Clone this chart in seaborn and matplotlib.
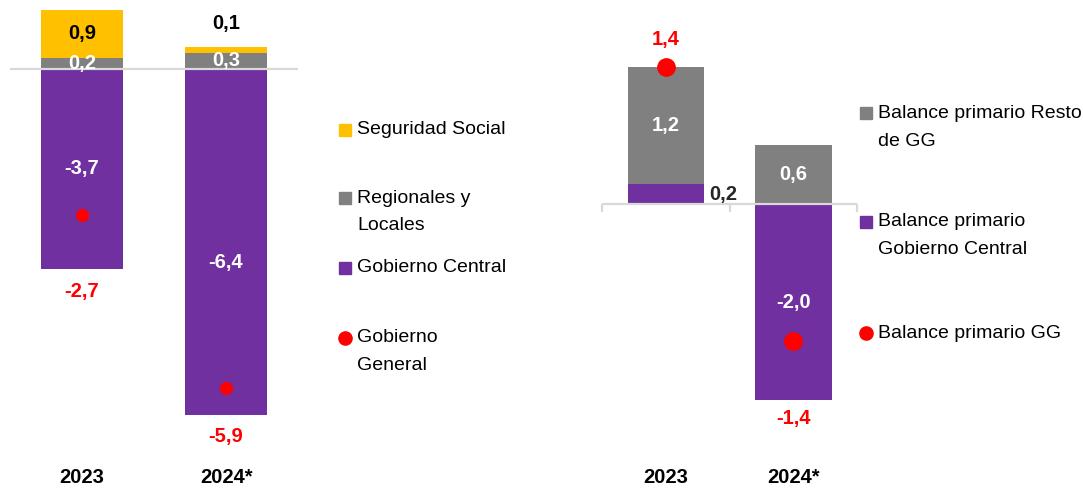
import matplotlib
matplotlib.use("Agg")
import matplotlib.pyplot as plt
from matplotlib.lines import Line2D
import seaborn as sns

years = ["2023", "2024*"]

# Left panel: balance by sub-sector (% of GDP)
seg_social = [0.9, 0.1]
regionales = [0.2, 0.3]
gob_central = [-3.7, -6.4]
gob_general = [-2.7, -5.9]
left_labels = ["Seguridad Social", "Regionales y\nLocales", "Gobierno Central", "Gobierno\nGeneral"]

# Right panel: primary balance
bp_resto = [1.2, 0.6]
bp_central = [0.2, -2.0]
bp_gg = [1.4, -1.4]
right_labels = ["Balance primario Resto\nde GG", "Balance primario\nGobierno Central", "Balance primario GG"]

YELLOW = "#FFC000"
GRAY = "#808080"
PURPLE = "#7030A0"
RED = "#FF0000"
LINE = "#D9D9D9"

W, H = 1083, 488


def fmt(v):
    return f"{v:.1f}".replace(".", ",")


def fig_xy(x, y):
    # pixel position -> figure fraction
    return x / W, 1 - y / H


def bars(ax, vals, color, width):
    sns.barplot(x=years, y=vals, color=color, width=width, saturation=1,
                errorbar=None, linewidth=0, ax=ax)


def label(ax, x, y, txt, color, dx=0, dy=0, ha="center"):
    ax.annotate(txt, (x, y), xytext=(dx, dy), textcoords="offset points",
                ha=ha, va="center", color=color, fontsize=14.5,
                fontweight="bold", zorder=6)


def legend(entries, mx, tx):
    for (txt, color, marker, y) in entries:
        ms = 9.5 if marker == "o" else 9
        fig.add_artist(Line2D([fig_xy(mx, y)[0]], [fig_xy(mx, y)[1]], marker=marker,
                              color=color, markersize=ms, linestyle="none",
                              transform=fig.transFigure))
        for k, line in enumerate(txt.split("\n")):
            fig.text(*fig_xy(tx, y + 28 * k), line, ha="left", va="center",
                     fontsize=14, color="black")


def style_axis(ax, xlim, ylim, pad):
    ax.set_xlim(*xlim)
    ax.set_ylim(*ylim)
    ax.set_yticks([])
    ax.set_xlabel("")
    ax.set_ylabel("")
    for s in ax.spines.values():
        s.set_visible(False)
    ax.tick_params(axis="x", length=0, pad=pad, labelsize=14.5, labelcolor="black")
    for t in ax.get_xticklabels():
        t.set_fontweight("bold")
    ax.axhline(0, color=LINE, lw=1.6, zorder=4)


sns.set_theme(style="white")
plt.rcParams["font.family"] = ["Liberation Sans", "DejaVu Sans"]

fig = plt.figure(figsize=(W / 100, H / 100), dpi=100)
ax1 = fig.add_axes([10 / W, 1 - 460 / H, 288 / W, 460 / H])
ax2 = fig.add_axes([602 / W, 1 - 466 / H, 255 / W, 466 / H])

# ---- left panel: stacked by overlaying cumulative bars
reg_top = [max(c, 0) + r for c, r in zip(gob_central, regionales)]
ss_top = [t + s for t, s in zip(reg_top, seg_social)]
bars(ax1, ss_top, YELLOW, 0.57)
bars(ax1, reg_top, GRAY, 0.57)
bars(ax1, gob_central, PURPLE, 0.57)
sns.stripplot(x=years, y=gob_general, jitter=False, color=RED, size=9.5,
              linewidth=0, ax=ax1, zorder=5)
style_axis(ax1, (-0.5, 1.5), (-(460 - 69) / 54, 69 / 54), pad=6)

central_frac = [0.5, 0.56]
for i in range(len(years)):
    if seg_social[i] >= 0.3:
        label(ax1, i, reg_top[i] + seg_social[i] / 2, fmt(seg_social[i]), "black")
    else:
        label(ax1, i, ss_top[i], fmt(seg_social[i]), "black", dy=17)
    label(ax1, i, reg_top[i] - regionales[i] / 2, fmt(regionales[i]), "white")
    label(ax1, i, gob_central[i] * central_frac[i], fmt(gob_central[i]), "white")
    label(ax1, i, gob_central[i], fmt(gob_general[i]), RED, dy=-16)

# ---- right panel
resto_top = [max(c, 0) + r for c, r in zip(bp_central, bp_resto)]
bars(ax2, resto_top, GRAY, 0.6)
bars(ax2, bp_central, PURPLE, 0.6)
sns.stripplot(x=years, y=bp_gg, jitter=False, color=RED, size=13.5,
              linewidth=0, ax=ax2, zorder=5)
style_axis(ax2, (-0.5, 1.5), (-(466 - 204) / 98, 204 / 98), pad=1.5)
ax2.vlines([-0.5, 0.5, 1.5], -0.085, 0, color=LINE, lw=1.6, zorder=4, clip_on=False)

for i in range(len(years)):
    label(ax2, i, resto_top[i] - bp_resto[i] / 2, fmt(bp_resto[i]), "white")
    if bp_central[i] >= 0.5 or bp_central[i] < 0:
        label(ax2, i, bp_central[i] / 2, fmt(bp_central[i]), "white")
    else:
        label(ax2, i + 0.3, bp_central[i] / 2, fmt(bp_central[i]), "#262626", dx=4, ha="left")
    if bp_gg[i] > 0:
        label(ax2, i, resto_top[i], fmt(bp_gg[i]), RED, dy=20)
    else:
        label(ax2, i, min(bp_central[i], 0), fmt(bp_gg[i]), RED, dy=-13)

# ---- legends
legend([(left_labels[0], YELLOW, "s", 130),
        (left_labels[1], GRAY, "s", 198),
        (left_labels[2], PURPLE, "s", 268),
        (left_labels[3], RED, "o", 338)], 345, 357)
legend([(right_labels[0], GRAY, "s", 113),
        (right_labels[1], PURPLE, "s", 222),
        (right_labels[2], RED, "o", 333)], 866, 878)

fig.savefig("out.png", dpi=100, facecolor="white")
